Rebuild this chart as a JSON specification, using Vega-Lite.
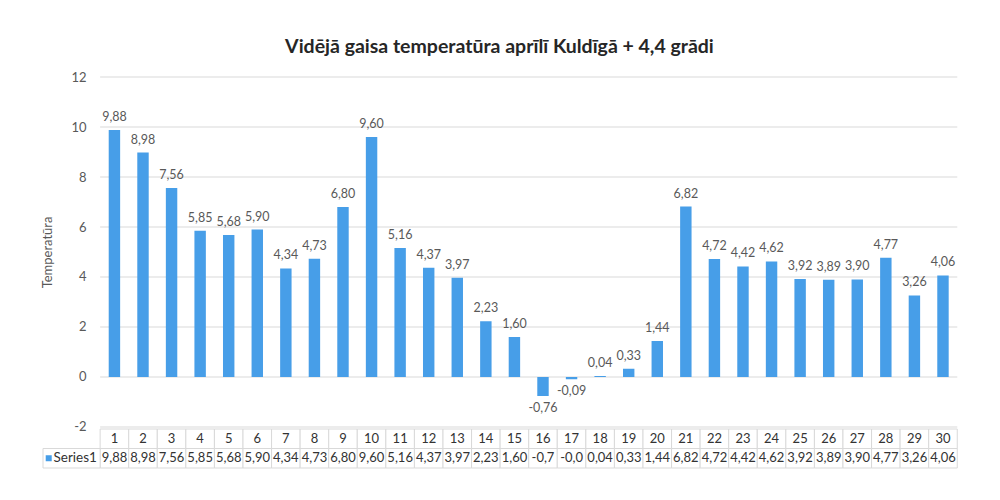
{
  "$schema": "https://vega.github.io/schema/vega-lite/v6.json",
  "background": "white",
  "padding": {"left": 41, "top": 36, "right": 10, "bottom": 10},
  "title": {"text": "Vidējā gaisa temperatūra aprīlī Kuldīgā + 4,4 grādi", "fontSize": 19.5, "fontWeight": "bold", "font": "Lato", "color": "#262626", "anchor": "middle", "offset": 14},
  "config": {"font": "Lato", "view": {"stroke": null}},
  "datasets": {
    "t": [
      {"d": "1", "v": 9.88}, {"d": "2", "v": 8.98}, {"d": "3", "v": 7.56}, {"d": "4", "v": 5.85}, {"d": "5", "v": 5.68},
      {"d": "6", "v": 5.90}, {"d": "7", "v": 4.34}, {"d": "8", "v": 4.73}, {"d": "9", "v": 6.80}, {"d": "10", "v": 9.60},
      {"d": "11", "v": 5.16}, {"d": "12", "v": 4.37}, {"d": "13", "v": 3.97}, {"d": "14", "v": 2.23}, {"d": "15", "v": 1.60},
      {"d": "16", "v": -0.76}, {"d": "17", "v": -0.09}, {"d": "18", "v": 0.04}, {"d": "19", "v": 0.33}, {"d": "20", "v": 1.44},
      {"d": "21", "v": 6.82}, {"d": "22", "v": 4.72}, {"d": "23", "v": 4.42}, {"d": "24", "v": 4.62}, {"d": "25", "v": 3.92},
      {"d": "26", "v": 3.89}, {"d": "27", "v": 3.90}, {"d": "28", "v": 4.77}, {"d": "29", "v": 3.26}, {"d": "30", "v": 4.06}
    ],
    "grid": [{"g": -2}, {"g": 0}, {"g": 2}, {"g": 4}, {"g": 6}, {"g": 8}, {"g": 10}, {"g": 12}]
  },
  "columns": 1,
  "spacing": 2,
  "bounds": "flush",
  "concat": [
    {
      "width": 914.28,
      "height": 350,
      "data": {"name": "t"},
      "transform": [{"calculate": "replace(replace(format(datum.v, '.2f'), '.', ','), '\u2212', '-')", "as": "lbl"}],
      "encoding": {
        "x": {"field": "d", "type": "nominal",
          "scale": {"domain": ["L1","L2","1","2","3","4","5","6","7","8","9","10","11","12","13","14","15","16","17","18","19","20","21","22","23","24","25","26","27","28","29","30"], "paddingInner": 0, "paddingOuter": 0},
          "axis": null},
        "y": {"field": "v", "type": "quantitative",
          "scale": {"domain": [-2, 12], "nice": false},
          "axis": {"values": [-2, 0, 2, 4, 6, 8, 10, 12], "labelExpr": "replace(datum.label, '\u2212', '-')", "title": "Temperatūra", "titleFontWeight": "normal", "titleFontSize": 13, "titleColor": "#595959",
            "labelColor": "#595959", "labelFontSize": 13, "domain": false, "ticks": false, "labelPadding": 14, "grid": false,
            "offset": -57.14, "minExtent": 30, "maxExtent": 30, "titlePadding": 16}}
      },
      "layer": [
        {"data": {"name": "grid"},
          "mark": {"type": "rule", "color": "#d9d9d9", "strokeWidth": 1},
          "encoding": {"x": {"datum": "1", "bandPosition": 0}, "x2": {"datum": "30", "bandPosition": 1}, "y": {"field": "g", "type": "quantitative"}}},
        {"mark": {"type": "bar", "color": "#479ee8", "width": {"band": 0.4}}},
        {"transform": [{"filter": "datum.v >= 0"}],
          "mark": {"type": "text", "baseline": "alphabetic", "dy": -9, "fontSize": 12.5, "color": "#595959"},
          "encoding": {"text": {"field": "lbl"}}},
        {"transform": [{"filter": "datum.v < 0"}],
          "mark": {"type": "text", "baseline": "top", "dy": 6, "fontSize": 12.5, "color": "#595959"},
          "encoding": {"text": {"field": "lbl"}}}
      ]
    },
    {
      "width": 914.28,
      "height": 39,
      "data": {"name": "t"},
      "transform": [{"calculate": "replace(replace(format(datum.v, '.2f'), '.', ','), '\u2212', '-')", "as": "lbl"}],
      "encoding": {
        "x": {"field": "d", "type": "nominal",
          "scale": {"domain": ["L1","L2","1","2","3","4","5","6","7","8","9","10","11","12","13","14","15","16","17","18","19","20","21","22","23","24","25","26","27","28","29","30"], "paddingInner": 0, "paddingOuter": 0},
          "axis": null}
      },
      "layer": [
        {"mark": {"type": "rect", "fill": "white", "stroke": "#d9d9d9", "strokeWidth": 1},
          "encoding": {"y": {"datum": "h", "type": "nominal", "scale": {"domain": ["h", "v"], "paddingInner": 0, "paddingOuter": 0}, "axis": null}}},
        {"mark": {"type": "rect", "fill": "white", "stroke": "#d9d9d9", "strokeWidth": 1},
          "encoding": {"y": {"datum": "v", "type": "nominal"}}},
        {"mark": {"type": "text", "fontSize": 13, "color": "#333333"},
          "encoding": {"y": {"datum": "h", "type": "nominal"}, "text": {"field": "d"}}},
        {"mark": {"type": "text", "fontSize": 13, "color": "#333333", "limit": 26, "ellipsis": "\u200b"},
          "encoding": {"y": {"datum": "v", "type": "nominal"}, "text": {"field": "lbl"}}},
        {"data": {"values": [{"s": "Series1"}]},
          "mark": {"type": "rect", "fill": "white", "stroke": "#d9d9d9", "strokeWidth": 1},
          "encoding": {"x": {"datum": "L1", "bandPosition": 0}, "x2": {"datum": "L2", "bandPosition": 1}, "y": {"datum": "v", "type": "nominal"}}},
        {"data": {"values": [{"s": "Series1"}]},
          "mark": {"type": "point", "shape": "square", "filled": true, "size": 36, "color": "#479ee8", "opacity": 1},
          "encoding": {"x": {"datum": "L1", "bandPosition": 0.2}, "y": {"datum": "v", "type": "nominal"}}},
        {"data": {"values": [{"s": "Series1"}]},
          "mark": {"type": "text", "fontSize": 13.5, "color": "#333333", "align": "left"},
          "encoding": {"x": {"datum": "L1", "bandPosition": 0.37}, "y": {"datum": "v", "type": "nominal"}, "text": {"field": "s"}}}
      ]
    }
  ]
}
